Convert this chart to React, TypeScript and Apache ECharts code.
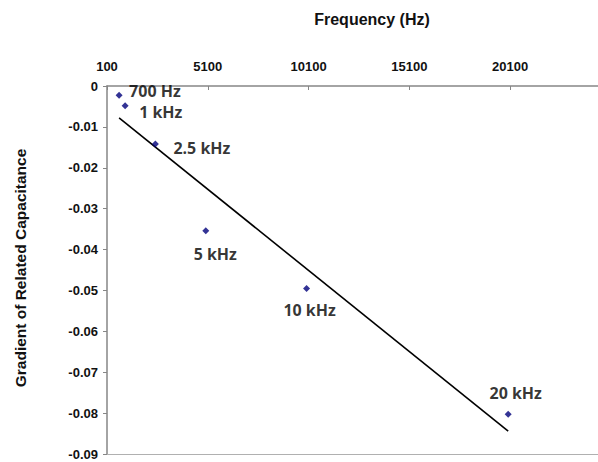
import React, { useEffect, useRef } from "react";
import * as echarts from "echarts";

const frequencies = [700, 1000, 2500, 5000, 10000, 20000];
const gradients = [-0.00225, -0.0048, -0.0142, -0.0354, -0.0495, -0.0803];
const pointLabels = ["700 Hz", "1 kHz", "2.5 kHz", "5 kHz", "10 kHz", "20 kHz"];
const trendX = [700, 20000];
const trendY = [-0.0078, -0.0844];
const xTickLabels = ["100", "5100", "10100", "15100", "20100"];

const labelOffsets: Array<[number, number, string]> = [
  [10, -4, "left"],
  [14, 6, "left"],
  [18, 4, "left"],
  [9.5, 23, "center"],
  [3, 22, "center"],
  [7.5, -21, "center"],
];

export default function App() {
  const ref = useRef<HTMLDivElement>(null);
  useEffect(() => {
    if (!ref.current) return;
    const chart = echarts.init(ref.current, null, { renderer: "svg" });
    const axisFont = {
      fontFamily: "Liberation Sans, Arial, sans-serif",
      fontWeight: "bold" as const,
      fontSize: 13,
      color: "#111",
    };
    chart.setOption({
      animation: false,
      backgroundColor: "#fff",
      grid: { left: 107, width: 504, top: 86, height: 368, containLabel: false },
      graphic: [
        {
          type: "text",
          x: 372,
          y: 19,
          style: {
            text: "Frequency (Hz)",
            fontFamily: "Liberation Sans, Arial, sans-serif",
            fontWeight: "bold",
            fontSize: 16,
            fill: "#111",
            align: "center",
            verticalAlign: "middle",
          },
        },
        {
          type: "text",
          x: 20,
          y: 268,
          rotation: Math.PI / 2,
          style: {
            text: "Gradient of Related Capacitance",
            fontFamily: "Liberation Sans, Arial, sans-serif",
            fontWeight: "bold",
            fontSize: 15.5,
            fill: "#111",
            align: "center",
            verticalAlign: "middle",
          },
        },
      ],
      xAxis: [
        {
          type: "value",
          position: "top",
          min: 100,
          max: 25100,
          interval: 5000,
          axisLine: { show: true, lineStyle: { color: "#868686", width: 1.5 } },
          axisTick: { show: true, inside: true, length: 4, lineStyle: { color: "#868686" } },
          axisLabel: {
            ...axisFont,
            margin: 13,
            formatter: (v: number) => {
              const s = String(Math.round(v));
              return xTickLabels.indexOf(s) >= 0 ? s : "";
            },
          },
          splitLine: { show: false },
        },
        {
          type: "value",
          position: "bottom",
          min: 100,
          max: 25100,
          axisLine: { show: true, onZero: false, lineStyle: { color: "#b0b0b0", width: 1 } },
          axisTick: { show: false },
          axisLabel: { show: false },
          splitLine: { show: false },
        },
      ],
      yAxis: {
        type: "value",
        min: -0.09,
        max: 0,
        interval: 0.01,
        axisLine: { show: true, onZero: false, lineStyle: { color: "#868686", width: 1.5 } },
        axisTick: { show: true, inside: false, length: 4, lineStyle: { color: "#868686" } },
        axisLabel: {
          ...axisFont,
          margin: 9,
          formatter: (v: number) => (Math.abs(v) < 1e-9 ? "0" : v.toFixed(2)),
        },
        splitLine: { show: false },
      },
      series: [
        {
          type: "line",
          xAxisIndex: 0,
          data: trendX.map((x, i) => [x, trendY[i]]),
          symbol: "none",
          lineStyle: { color: "#000", width: 1.6 },
          silent: true,
          z: 2,
        },
        {
          type: "scatter",
          xAxisIndex: 0,
          symbol: "diamond",
          symbolSize: 7,
          itemStyle: { color: "#00007a" },
          z: 3,
          data: frequencies.map((f, i) => ({
            value: [f, gradients[i]],
            label: {
              show: true,
              position: "inside",
              formatter: pointLabels[i],
              offset: [labelOffsets[i][0], labelOffsets[i][1]],
              align: labelOffsets[i][2],
              verticalAlign: "middle",
              fontFamily: "Open Sans, sans-serif",
              fontWeight: "bold",
              fontSize: 16,
              lineHeight: 13,
              color: "#000",
            },
          })),
        },
      ],
    });
    return () => chart.dispose();
  }, []);
  return (
    <div
      style={{ position: "absolute", left: 0, top: 0, width: 598, height: 462, overflow: "hidden" }}
    >
      <div ref={ref} style={{ width: 640, height: 462 }} />
    </div>
  );
}
